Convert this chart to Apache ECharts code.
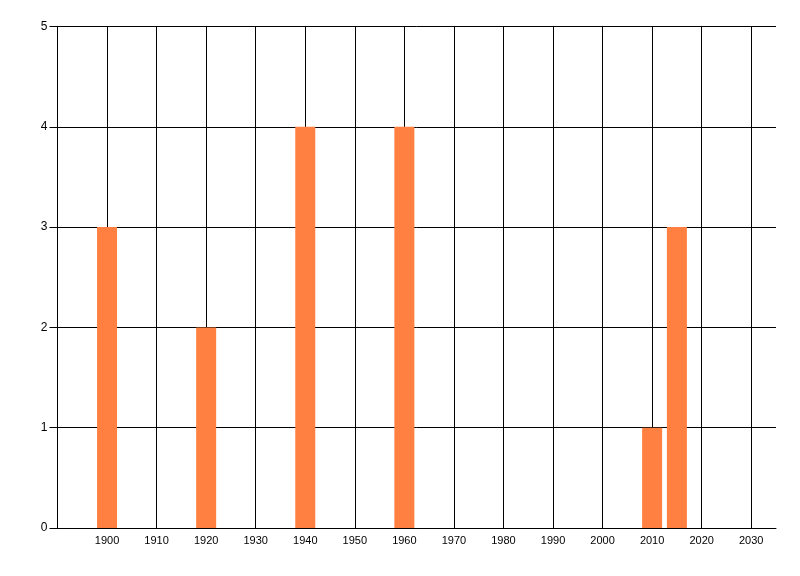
<!DOCTYPE html>
<html>
<head>
<meta charset="utf-8">
<script src="https://cdn.jsdelivr.net/npm/echarts@6/dist/echarts.min.js"></script>
<style>
  html, body { margin: 0; padding: 0; background: #fff; }
  #main { width: 800px; height: 576px; }
</style>
</head>
<body>
<div id="main"></div>
<script>
// 数据
var years = [1900, 1920, 1940, 1960, 2010, 2015];
var counts = [3, 2, 4, 4, 1, 3];
var yTicks = [0, 1, 2, 3, 4, 5];

var myChart = echarts.init(document.getElementById('main'));

var barData = years.map(function (y, i) { return [y, counts[i]]; });

var option = {
    animation: false,
    backgroundColor: '#fff',
    textStyle: { fontFamily: 'Liberation Sans', fontSize: 11, color: '#000' },
    grid: { left: 57.5, top: 26.5, right: 24, bottom: 48, containLabel: false },
    xAxis: {
        type: 'value',
        min: 1890,
        max: 2035,
        interval: 10,
        axisLine: { show: true, lineStyle: { color: '#000', width: 1 } },
        axisTick: { show: false },
        axisLabel: {
            color: '#000', fontSize: 11, margin: 7, fontFamily: 'Liberation Sans',
            showMinLabel: false, showMaxLabel: false,
            formatter: function (v) { return v % 10 === 0 ? String(v) : ''; }
        },
        splitLine: { show: true, showMinLine: true, showMaxLine: false, lineStyle: { color: '#000', width: 1 } }
    },
    yAxis: {
        type: 'value',
        min: yTicks[0],
        max: yTicks[yTicks.length - 1],
        interval: 1,
        axisLine: { show: true, lineStyle: { color: '#000', width: 1 } },
        axisTick: { show: true, length: 8, lineStyle: { color: '#000' } },
        axisLabel: { color: '#000', fontSize: 12, margin: 10, fontFamily: 'Liberation Sans' },
        splitLine: { show: true, lineStyle: { color: '#000', width: 1 } }
    },
    series: [{
        type: 'bar',
        data: barData,
        barWidth: 20,
        itemStyle: { color: '#FF8040' }
    }]
};

myChart.setOption(option);
</script>
</body>
</html>
